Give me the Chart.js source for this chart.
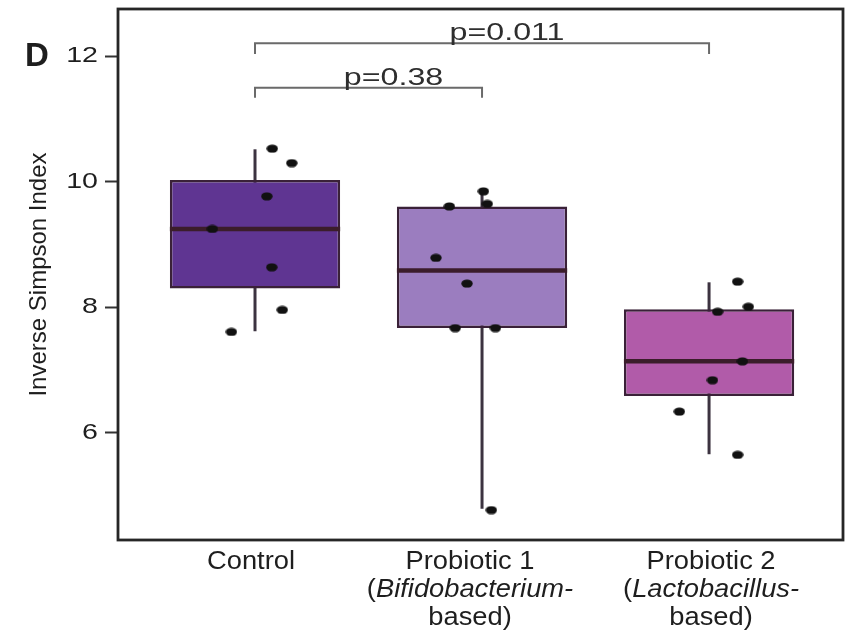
<!DOCTYPE html>
<html>
<head>
<meta charset="utf-8">
<script src="https://cdn.jsdelivr.net/npm/chart.js@4.4.1/dist/chart.umd.min.js"></script>
<style>
  html, body { margin: 0; padding: 0; background: #fff; }
  #wrap { width: 848px; height: 630px; position: relative; }
</style>
</head>
<body>
<div id="wrap"><canvas id="chart"></canvas></div>
<script>
// ── Data ──

const categories = ['Control', 'Probiotic 1', 'Probiotic 2'];
const genus = [null, 'Bifidobacterium', 'Lactobacillus'];
const boxColors = ['#5f3592', '#9b7dbf', '#b15ba9'];

const whiskerLow  = [7.62, 4.79, 5.66];
const quartile1   = [8.30, 7.67, 6.59];
const medians     = [9.25, 8.59, 7.14];
const quartile3   = [10.03, 9.61, 7.97];
const whiskerHigh = [10.52, 9.85, 8.40];

const controlPoints    = [10.53, 10.30, 9.77, 9.25, 8.64, 7.96, 7.61];
const controlJitter    = [0.076, 0.162, 0.052, -0.188, 0.074, 0.120, -0.104];
const probiotic1Points = [9.85, 9.61, 9.65, 8.79, 8.38, 7.67, 7.67, 4.77];
const probiotic1Jitter = [0.006, -0.144, 0.023, -0.203, -0.066, -0.118, 0.059, 0.041];
const probiotic2Points = [8.41, 8.01, 7.93, 7.14, 6.84, 6.34, 5.65];
const probiotic2Jitter = [0.126, 0.173, 0.038, 0.147, 0.015, -0.131, 0.126];

const yTicks = [6, 8, 10, 12];
const comparisons = [[1, 3], [1, 2]];
const pValues = ['p=0.011', 'p=0.38'];
const bracketTop = [12.21, 11.50];
const bracketFoot = [12.04, 11.34];

const FONT = '"Liberation Sans", Arial, Helvetica, sans-serif';
const HALF_BOX = 0.375;

// ── Point marker (the dots are slightly wider than tall) ──

const dot = document.createElement('canvas');
dot.width = 12;
dot.height = 9;
const dctx = dot.getContext('2d');
dctx.fillStyle = '#111';
dctx.beginPath();
dctx.ellipse(6, 4.5, 5.7, 4.1, 0, 0, Math.PI * 2);
dctx.fill();

// ── Helpers ──

function stretchText(ctx, text, x, y, sx, align) {
    const w = ctx.measureText(text).width * sx;
    const left = align === 'right' ? x - w : align === 'center' ? x - w / 2 : x;
    ctx.save();
    ctx.translate(left, y);
    ctx.scale(sx, 1);
    ctx.textAlign = 'left';
    ctx.fillText(text, 0, 0);
    ctx.restore();
}

// segments: [[text, italic], ...] drawn centred on cx
function drawSegments(ctx, segs, cx, y, sx, size) {
    const fonts = segs.map(s => (s[1] ? 'italic ' : '') + size + 'px ' + FONT);
    const widths = segs.map((s, i) => { ctx.font = fonts[i]; return ctx.measureText(s[0]).width * sx; });
    let x = cx - widths.reduce((a, b) => a + b, 0) / 2;
    segs.forEach((s, i) => {
        ctx.font = fonts[i];
        stretchText(ctx, s[0], x, y, sx, 'left');
        x += widths[i];
    });
}

const allPoints = [
    ...controlPoints.map((v, i) => ({ x: 1 + controlJitter[i], y: v })),
    ...probiotic1Points.map((v, i) => ({ x: 2 + probiotic1Jitter[i], y: v })),
    ...probiotic2Points.map((v, i) => ({ x: 3 + probiotic2Jitter[i], y: v })),
];

// ── Frame, labels, annotations ──

const decor = {
    id: 'decor',
    afterDraw(chart) {
        const { ctx, chartArea: a, scales: { x, y } } = chart;
        ctx.save();

        ctx.strokeStyle = '#262626';
        ctx.lineWidth = 2.8;
        ctx.strokeRect(a.left, a.top, a.right - a.left, a.bottom - a.top);

        ctx.fillStyle = '#1e1e1e';
        ctx.textBaseline = 'middle';
        ctx.font = '22px ' + FONT;
        yTicks.forEach(v => stretchText(ctx, String(v), 98, y.getPixelForValue(v), 1.3, 'right'));

        ctx.textBaseline = 'alphabetic';
        ctx.font = 'bold 33px ' + FONT;
        ctx.fillText('D', 25, 66);

        // p-values above the brackets
        ctx.fillStyle = '#2e2e2e';
        ctx.font = '23px ' + FONT;
        comparisons.forEach((c, i) => {
            const cx = x.getPixelForValue((c[0] + c[1]) / 2) + 25;
            stretchText(ctx, pValues[i], cx, y.getPixelForValue(bracketTop[i]) - 3, 1.4, 'center');
        });

        // category labels
        ctx.fillStyle = '#1e1e1e';
        const shift = [-4, -12, 2];
        categories.forEach((c, i) => {
            const cx = x.getPixelForValue(i + 1) + shift[i];
            drawSegments(ctx, [[c, false]], cx, 569, 1.05, 26);
            if (genus[i]) {
                drawSegments(ctx, [['(', false], [genus[i] + '-', true]], cx, 597, 1.05, 26);
                drawSegments(ctx, [['based)', false]], cx, 625, 1.05, 26);
            }
        });
        ctx.restore();
    }
};

// ── Datasets ──

const datasets = [];

datasets.push({
    type: 'bar',
    data: categories.map((c, i) => ({ x: i + 1, y: [quartile1[i], quartile3[i]] })),
    backgroundColor: boxColors,
    borderColor: '#3a2138',
    borderWidth: 2.5,
    borderSkipped: false,
    grouped: false,
    barPercentage: HALF_BOX * 2,
    categoryPercentage: 1,
    order: 2,
});

categories.forEach((c, i) => {
    datasets.push({
        type: 'line',
        data: [{ x: i + 1, y: whiskerLow[i] }, { x: i + 1, y: whiskerHigh[i] }],
        borderColor: '#3c3340',
        borderWidth: 3,
        pointRadius: 0,
        fill: false,
        order: 3,
    });
    datasets.push({
        type: 'line',
        data: [{ x: i + 1 - HALF_BOX, y: medians[i] }, { x: i + 1 + HALF_BOX, y: medians[i] }],
        borderColor: '#3b1d2b',
        borderWidth: 4.5,
        borderCapStyle: 'butt',
        pointRadius: 0,
        fill: false,
        order: 1,
    });
});

comparisons.forEach((c, i) => {
    datasets.push({
        type: 'line',
        data: [
            { x: c[0], y: bracketFoot[i] }, { x: c[0], y: bracketTop[i] },
            { x: c[1], y: bracketTop[i] }, { x: c[1], y: bracketFoot[i] },
        ],
        borderColor: '#6a6a6a',
        borderWidth: 2,
        borderCapStyle: 'butt',
        borderJoinStyle: 'miter',
        pointRadius: 0,
        fill: false,
        order: 0,
    });
});

datasets.push({
    type: 'scatter',
    data: allPoints,
    pointStyle: dot,
    pointRadius: 4,
    order: -1,
});

// ── Chart ──

new Chart(document.getElementById('chart'), {
    type: 'bar',
    data: { datasets },
    plugins: [decor],
    options: {
        responsive: true,
        maintainAspectRatio: false,
        animation: false,
        layout: { padding: { top: 9, right: 5, bottom: 0, left: 0 } },
        plugins: { legend: { display: false }, tooltip: { enabled: false } },
        scales: {
            x: {
                type: 'linear',
                min: 0.3965,
                max: 3.59,
                offset: false,
                grid: { display: false },
                border: { display: false },
                ticks: { display: false },
                afterBuildTicks: s => { s.ticks = categories.map((c, i) => ({ value: i + 1 })); },
                afterFit: s => { s.height = 90; },
            },
            y: {
                type: 'linear',
                min: 4.293,
                max: 12.756,
                beginAtZero: false,
                border: { display: false },
                grid: {
                    drawOnChartArea: false,
                    drawTicks: true,
                    tickLength: 13,
                    tickWidth: 2,
                    tickColor: '#333',
                },
                ticks: { display: false },
                afterBuildTicks: s => { s.ticks = yTicks.map(v => ({ value: v })); },
                afterFit: s => { s.width = 118; },
                title: {
                    display: true,
                    text: 'Inverse Simpson Index',
                    color: '#1e1e1e',
                    font: { family: FONT, size: 24 },
                    padding: { top: 25, bottom: 0 },
                },
            },
        },
    },
});
</script>
</body>
</html>
